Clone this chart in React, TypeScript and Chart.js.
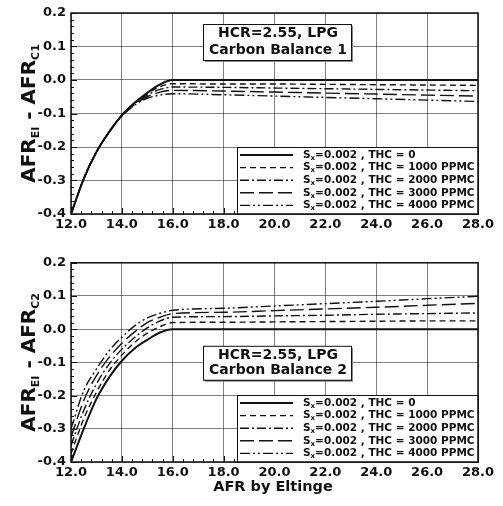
import React, { useEffect, useRef } from "react";
import { Chart, registerables } from "chart.js";
Chart.register(...registerables);

// ---- data ----
const afr = [12, 12.5, 13, 13.5, 14, 14.5, 15, 15.5, 16, 18, 20, 22, 24, 26, 28];
const seriesLabels = ["THC = 0", "THC = 1000 PPMC", "THC = 2000 PPMC", "THC = 3000 PPMC", "THC = 4000 PPMC"];
const sxLabel = "=0.002 , ";

// Carbon Balance 1
const cb1Thc0 = [-0.4, -0.295, -0.215, -0.155, -0.105, -0.068, -0.038, -0.013, 0, 0, 0, 0, 0, 0, 0];
const cb1Thc1000 = [-0.4, -0.295, -0.215, -0.155, -0.105, -0.069, -0.041, -0.02, -0.011, -0.012, -0.012, -0.013, -0.014, -0.015, -0.016];
const cb1Thc2000 = [-0.4, -0.295, -0.215, -0.155, -0.106, -0.071, -0.045, -0.028, -0.021, -0.022, -0.024, -0.026, -0.028, -0.03, -0.032];
const cb1Thc3000 = [-0.4, -0.295, -0.215, -0.155, -0.107, -0.073, -0.05, -0.036, -0.031, -0.033, -0.036, -0.039, -0.042, -0.045, -0.048];
const cb1Thc4000 = [-0.4, -0.295, -0.215, -0.156, -0.108, -0.075, -0.055, -0.045, -0.041, -0.044, -0.048, -0.052, -0.056, -0.06, -0.064];

// Carbon Balance 2
const cb2Thc0 = [-0.4, -0.3, -0.21, -0.145, -0.095, -0.058, -0.032, -0.01, 0, 0, 0, 0, 0, 0, 0];
const cb2Thc1000 = [-0.375, -0.27, -0.19, -0.125, -0.078, -0.04, -0.012, 0.008, 0.02, 0.021, 0.022, 0.023, 0.024, 0.025, 0.025];
const cb2Thc2000 = [-0.35, -0.245, -0.165, -0.105, -0.06, -0.025, 0.004, 0.025, 0.036, 0.038, 0.04, 0.042, 0.045, 0.047, 0.049];
const cb2Thc3000 = [-0.325, -0.215, -0.14, -0.085, -0.042, -0.008, 0.02, 0.036, 0.047, 0.051, 0.056, 0.061, 0.066, 0.072, 0.078];
const cb2Thc4000 = [-0.3, -0.185, -0.12, -0.065, -0.024, 0.01, 0.034, 0.048, 0.057, 0.063, 0.07, 0.077, 0.084, 0.092, 0.099];

const xMin = 12, xMax = 28, xStep = 2;
const yMin = -0.4, yMax = 0.2, yStep = 0.1;

// ---- styles ----
const FONT = "'DejaVu Sans', sans-serif";
const dashes = [[], [6, 4], [9, 3, 2, 3], [14, 5], [10, 3, 2, 3, 2, 3]];
const widths = [2, 1.4, 1.4, 1.4, 1.4];

function makePlugin(cfg: { boxLines: string[]; ySub: string; boxTop: number; boxHeight: number; xTitle: boolean }) {
  return {
    id: "decor",
    afterDatasetsDraw(chart: any) {
      const ctx = chart.ctx as CanvasRenderingContext2D;
      const a = chart.chartArea;
      ctx.save();
      // minor ticks
      ctx.strokeStyle = "#111";
      ctx.lineWidth = 1;
      const ys = chart.scales.y;
      const xs = chart.scales.x;
      for (let v = yMin; v <= yMax + 1e-9; v += 0.02) {
        const py = Math.round(ys.getPixelForValue(v)) + 0.5;
        const major = Math.abs(v * 10 - Math.round(v * 10)) < 1e-6;
        ctx.beginPath();
        ctx.moveTo(a.left, py);
        ctx.lineTo(a.left + (major ? 6 : 3), py);
        ctx.stroke();
      }
      for (let v = xMin; v <= xMax + 1e-9; v += 0.4) {
        const px = Math.round(xs.getPixelForValue(v)) + 0.5;
        const major = Math.abs(v / 2 - Math.round(v / 2)) < 1e-6;
        ctx.beginPath();
        ctx.moveTo(px, a.bottom);
        ctx.lineTo(px, a.bottom - (major ? 6 : 3));
        ctx.stroke();
      }

      // annotation box
      const bx = a.left + 132, bw = 148;
      const by = a.top + cfg.boxTop, bh = cfg.boxHeight;
      ctx.fillStyle = "#888";
      ctx.fillRect(bx + 2, by + 2, bw, bh);
      ctx.fillStyle = "#fff";
      ctx.fillRect(bx, by, bw, bh);
      ctx.strokeStyle = "#111";
      ctx.lineWidth = 1;
      ctx.strokeRect(bx + 0.5, by + 0.5, bw, bh);
      ctx.fillStyle = "#111";
      ctx.font = `bold 14px ${FONT}`;
      ctx.textAlign = "center";
      ctx.textBaseline = "middle";
      ctx.fillText(cfg.boxLines[0], bx + bw / 2 + 1, by + bh * 0.27);
      ctx.fillText(cfg.boxLines[1], bx + bw / 2 + 1, by + bh * 0.73);

      // legend box
      const lw = 241, lh = 67;
      const lx = a.right - lw, ly = a.bottom - lh;
      ctx.fillStyle = "#fff";
      ctx.fillRect(lx, ly, lw, lh);
      ctx.strokeStyle = "#111";
      ctx.strokeRect(lx + 0.5, ly + 0.5, lw, lh);
      chart.data.datasets.forEach((ds: any, i: number) => {
        const cy = ly + 8 + i * 12.6;
        ctx.save();
        ctx.strokeStyle = "#111";
        ctx.lineWidth = ds.borderWidth;
        ctx.setLineDash(ds.borderDash || []);
        ctx.beginPath();
        ctx.moveTo(lx + 3, cy);
        ctx.lineTo(lx + 56, cy);
        ctx.stroke();
        ctx.restore();
        ctx.fillStyle = "#111";
        ctx.textAlign = "left";
        ctx.textBaseline = "middle";
        let tx = lx + 66;
        ctx.font = `bold 10.5px ${FONT}`;
        ctx.fillText("S", tx, cy);
        tx += ctx.measureText("S").width;
        ctx.font = `bold 7px ${FONT}`;
        ctx.fillText("x", tx, cy + 3);
        tx += ctx.measureText("x").width;
        ctx.font = `bold 10.5px ${FONT}`;
        ctx.fillText(sxLabel + ds.label, tx, cy);
      });

      // frame
      ctx.strokeStyle = "#111";
      ctx.lineWidth = 1.5;
      ctx.strokeRect(a.left, a.top, a.right - a.left, a.bottom - a.top);

      // y title with subscripts
      const parts: [string, boolean][] = [["AFR", false], ["EI", true], [" - AFR", false], [cfg.ySub, true]];
      const big = `bold 20px ${FONT}`, small = `bold 11px ${FONT}`;
      let total = 0;
      parts.forEach(([t, s]) => { ctx.font = s ? small : big; total += ctx.measureText(t).width; });
      ctx.translate(28, (a.top + a.bottom) / 2);
      ctx.rotate(-Math.PI / 2);
      ctx.textAlign = "left";
      ctx.textBaseline = "alphabetic";
      let px = -total / 2;
      parts.forEach(([t, s]) => {
        ctx.font = s ? small : big;
        ctx.fillText(t, px, s ? 11 : 7);
        px += ctx.measureText(t).width;
      });
      ctx.restore();

      if (cfg.xTitle) {
        ctx.save();
        ctx.fillStyle = "#111";
        ctx.font = `bold 14.5px ${FONT}`;
        ctx.textAlign = "center";
        ctx.textBaseline = "middle";
        ctx.fillText("AFR by Eltinge", 273, a.bottom + 25);
        ctx.restore();
      }
    },
  };
}

function buildConfig(series: number[][], plugin: any, padTop: number, xHeight: number) {
  return {
    type: "line",
    data: {
      datasets: series.map((vals, i) => ({
        label: seriesLabels[i],
        data: afr.map((x, j) => ({ x, y: vals[j] })),
        borderColor: "#111",
        borderWidth: widths[i],
        borderDash: dashes[i],
        pointRadius: 0,
        cubicInterpolationMode: "monotone",
        fill: false,
      })),
    },
    options: {
      responsive: false,
      animation: false,
      devicePixelRatio: 1,
      layout: { padding: { left: 0, right: 25, top: padTop, bottom: 0 } },
      plugins: { legend: { display: false }, tooltip: { enabled: false }, title: { display: false } },
      scales: {
        x: {
          type: "linear",
          min: xMin,
          max: xMax,
          afterFit: (s: any) => { s.height = xHeight; },
          grid: { color: "rgba(0,0,0,0.5)", lineWidth: 1, tickLength: 0 },
          border: { display: false },
          ticks: {
            stepSize: xStep,
            padding: 3,
            color: "#111",
            font: { family: FONT, weight: "bold", size: 13 },
            callback: (v: number) => v.toFixed(1),
          },
        },
        y: {
          type: "linear",
          min: yMin,
          max: yMax,
          afterFit: (s: any) => { s.width = 71; },
          grid: { color: "rgba(0,0,0,0.5)", lineWidth: 1, tickLength: 0 },
          border: { display: false },
          ticks: {
            stepSize: yStep,
            padding: 5,
            color: "#111",
            font: { family: FONT, weight: "bold", size: 13 },
            callback: (v: number) => (Math.abs(v) < 1e-9 ? "0.0" : v.toFixed(1)),
          },
        },
      },
    },
    plugins: [plugin],
  };
}

export default function App() {
  const topRef = useRef<HTMLCanvasElement>(null);
  const botRef = useRef<HTMLCanvasElement>(null);
  useEffect(() => {
    const c1 = new Chart(
      topRef.current as HTMLCanvasElement,
      buildConfig(
        [cb1Thc0, cb1Thc1000, cb1Thc2000, cb1Thc3000, cb1Thc4000],
        makePlugin({ boxLines: ["HCR=2.55, LPG", "Carbon Balance 1"], ySub: "C1", boxTop: 11, boxHeight: 36, xTitle: false }),
        13,
        36
      ) as any
    );
    const c2 = new Chart(
      botRef.current as HTMLCanvasElement,
      buildConfig(
        [cb2Thc0, cb2Thc1000, cb2Thc2000, cb2Thc3000, cb2Thc4000],
        makePlugin({ boxLines: ["HCR=2.55, LPG", "Carbon Balance 2"], ySub: "C2", boxTop: 83, boxHeight: 34, xTitle: true }),
        12,
        44
      ) as any
    );
    return () => { c1.destroy(); c2.destroy(); };
  }, []);
  return (
    <div style={{ position: "absolute", left: 0, top: 0, width: 503, height: 506, background: "#fff" }}>
      <canvas ref={topRef} width={503} height={250} style={{ position: "absolute", left: 0, top: 0 }} />
      <canvas ref={botRef} width={503} height={256} style={{ position: "absolute", left: 0, top: 250 }} />
    </div>
  );
}
